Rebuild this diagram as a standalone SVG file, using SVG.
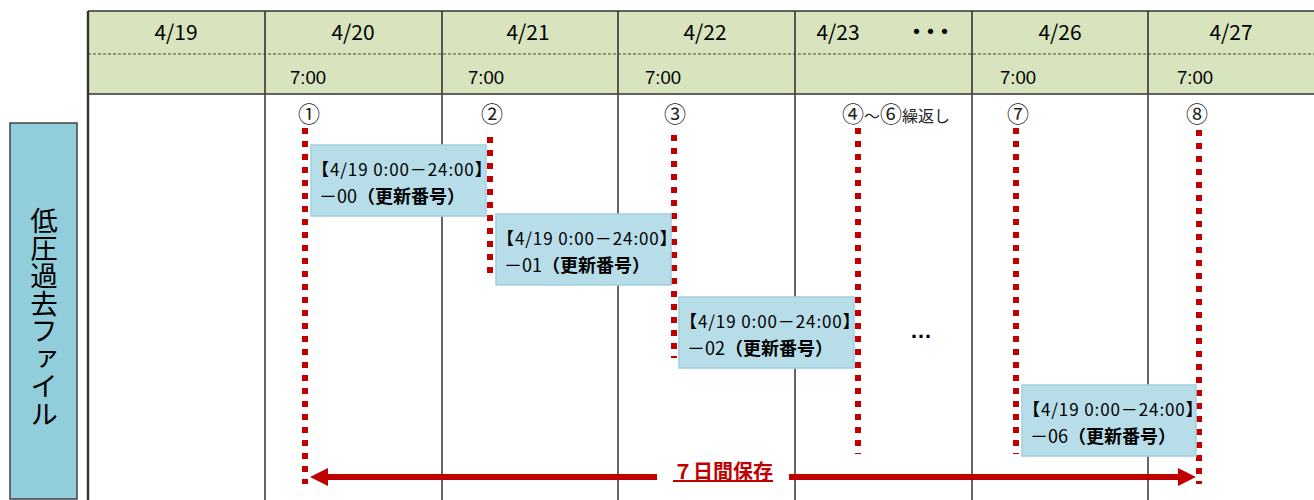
<svg xmlns="http://www.w3.org/2000/svg" width="1314" height="500" viewBox="0 0 1314 500">
<defs>
<style>
.hdr{fill:#d7e4bd}
.grid{stroke:#333;stroke-width:1.6;fill:none}
.body{stroke:#555;stroke-width:1.8;fill:none}
.date{font-family:"Noto Sans CJK JP","Liberation Sans",sans-serif;font-size:21px;fill:#000;text-anchor:middle}
.time{font-family:"Liberation Sans","Noto Sans CJK JP",sans-serif;font-size:18.5px;fill:#000}
.num{font-family:"Noto Sans CJK JP",sans-serif;font-size:22px;fill:#222;text-anchor:middle}
.numl{font-family:"Noto Sans CJK JP",sans-serif;font-size:22px;fill:#222;text-anchor:start}
.box{fill:#b7dde8;stroke:#a3d3e0;stroke-width:1.6}
.bt{font-family:"Noto Sans CJK JP",sans-serif;font-size:17px;fill:#000}
.l1{letter-spacing:0.9px}
.l2{font-size:18px}
.b{font-weight:bold}
.dot{stroke:#c00000;stroke-width:6;stroke-dasharray:6 7;fill:none}
.arr{stroke:#c00000;stroke-width:6;fill:none}
.arrh{fill:#c00000}
.lbl{font-family:"Noto Sans CJK JP",sans-serif;font-size:27.5px;fill:#000;text-anchor:middle;writing-mode:vertical-rl}
</style>
</defs>
<rect width="1314" height="500" fill="#fff"/>

<g id="table">
<rect class="hdr" x="88" y="11" width="1230" height="83"/>
<line x1="88" y1="11" x2="1314" y2="11" class="grid"/>
<line x1="88" y1="54" x2="1314" y2="54" stroke="#444" stroke-width="1" stroke-dasharray="3 2"/>
<line x1="88" y1="94" x2="1314" y2="94" class="grid" stroke-width="2"/>
<line x1="88" y1="11" x2="88" y2="500" stroke="#333" stroke-width="2.4"/>
<g class="grid">
<line x1="265" y1="11" x2="265" y2="94"/>
<line x1="442" y1="11" x2="442" y2="94"/>
<line x1="618" y1="11" x2="618" y2="94"/>
<line x1="795" y1="11" x2="795" y2="94"/>
<line x1="972" y1="11" x2="972" y2="94"/>
<line x1="1148" y1="11" x2="1148" y2="94"/>
</g>
<g class="body">
<line x1="265" y1="94" x2="265" y2="500"/>
<line x1="442" y1="94" x2="442" y2="500"/>
<line x1="618" y1="94" x2="618" y2="500"/>
<line x1="795" y1="94" x2="795" y2="500"/>
<line x1="972" y1="94" x2="972" y2="500"/>
<line x1="1148" y1="94" x2="1148" y2="500"/>
</g>
<text class="date" x="176" y="40">4/19</text>
<text class="date" x="353" y="40">4/20</text>
<text class="date" x="528" y="40">4/21</text>
<text class="date" x="705" y="40">4/22</text>
<text class="date" x="838" y="40">4/23</text>
<text class="date" x="927" y="39" font-weight="bold" letter-spacing="-7">・・・</text>
<text class="date" x="1060" y="40">4/26</text>
<text class="date" x="1231" y="40">4/27</text>
<text class="time" x="290" y="84">7:00</text>
<text class="time" x="468" y="84">7:00</text>
<text class="time" x="645" y="84">7:00</text>
<text class="time" x="1000" y="84">7:00</text>
<text class="time" x="1177" y="84">7:00</text>
</g>

<g id="row-label">
<rect x="10" y="123" width="67" height="376" fill="#92cddc" stroke="#404040" stroke-width="1.5"/>
<text class="lbl" x="44" y="317">低圧過去ファイル</text>
</g>

<g id="markers">
<text class="num" x="309" y="122">①</text>
<text class="num" x="492" y="122">②</text>
<text class="num" x="675" y="122">③</text>
<text class="numl" x="842" y="122">④<tspan font-size="16">～</tspan>⑥<tspan font-size="16">繰返し</tspan></text>
<text class="num" x="1018" y="122">⑦</text>
<text class="num" x="1197" y="122">⑧</text>
<text x="921" y="338" font-family="Liberation Sans,sans-serif" font-size="22" font-weight="bold" text-anchor="middle">…</text>
</g>

<g id="connectors">
<line class="dot" x1="305" y1="128" x2="305" y2="484"/>
<line class="dot" x1="490" y1="137" x2="490" y2="280"/>
<line class="dot" x1="674" y1="135" x2="674" y2="358"/>
<line class="dot" x1="858" y1="128" x2="858" y2="454"/>
<line class="dot" x1="1016" y1="128" x2="1016" y2="454"/>
<line class="dot" x1="1199" y1="130" x2="1199" y2="484"/>
<g id="retention-arrow">
<line class="arr" x1="326" y1="477" x2="657" y2="477"/>
<line class="arr" x1="789" y1="477" x2="1180" y2="477"/>
<polygon class="arrh" points="310,477 328,468 328,486"/>
<polygon class="arrh" points="1196,477 1178,468 1178,486"/>
<text x="723" y="479" font-family="Noto Sans CJK JP,sans-serif" font-size="20" font-weight="bold" fill="#c00000" text-anchor="middle" text-decoration="underline">７日間保存</text>
</g>
</g>

<g id="file-00">
<rect class="box" x="311" y="145" width="175" height="71"/>
<text class="bt"><tspan class="l1" x="312" y="176"><tspan class="b">【</tspan>4/19  0:00－24:00<tspan class="b">】</tspan></tspan><tspan class="l2" x="319" y="203">－00<tspan class="b">（更新番号）</tspan></tspan></text>
</g>
<g id="file-01">
<rect class="box" x="496" y="214" width="175" height="71"/>
<text class="bt"><tspan class="l1" x="497" y="245"><tspan class="b">【</tspan>4/19  0:00－24:00<tspan class="b">】</tspan></tspan><tspan class="l2" x="504" y="272">－01<tspan class="b">（更新番号）</tspan></tspan></text>
</g>
<g id="file-02">
<rect class="box" x="679" y="297" width="175" height="71"/>
<text class="bt"><tspan class="l1" x="680" y="328"><tspan class="b">【</tspan>4/19  0:00－24:00<tspan class="b">】</tspan></tspan><tspan class="l2" x="687" y="355">－02<tspan class="b">（更新番号）</tspan></tspan></text>
</g>
<g id="file-06">
<rect class="box" x="1022" y="385" width="174" height="71"/>
<text class="bt"><tspan class="l1" x="1023" y="416"><tspan class="b">【</tspan>4/19  0:00－24:00<tspan class="b">】</tspan></tspan><tspan class="l2" x="1030" y="443">－06<tspan class="b">（更新番号）</tspan></tspan></text>
</g>
</svg>
